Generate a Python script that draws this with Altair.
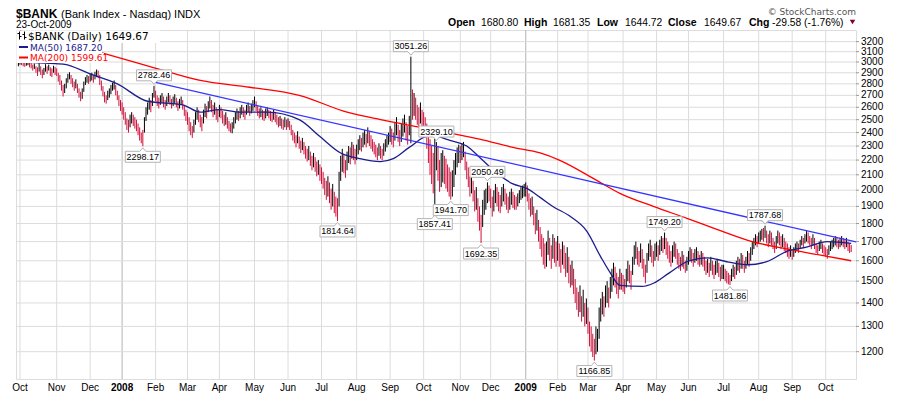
import altair as alt
import pandas as pd

# ---------------- axis data ----------------
# trading-day index of first session of each month (1-Oct-2007 = 0)
month_idx = [0, 23, 44, 64, 85, 105, 125, 147, 168, 189, 211, 232, 253,
             276, 295, 317, 337, 356, 378, 399, 419, 441, 463, 484, 505]
month_lbl = ["Oct", "Nov", "Dec", "2008", "Feb", "Mar", "Apr", "May", "Jun",
             "Jul", "Aug", "Sep", "Oct", "Nov", "Dec", "2009", "Feb", "Mar",
             "Apr", "May", "Jun", "Jul", "Aug", "Sep", "Oct"]
year_idx = [64, 317]
y_ticks = list(range(1200, 3300, 100))

# ---------------- daily bars (high, low), first bar = index -1 ----------------
b2007_10 = [(3000, 2960), (3020, 2975), (3010, 2970), (3005, 2960), (3000, 2955), (3015, 2965),
            (3010, 2970), (2995, 2950), (2990, 2940), (2975, 2920), (2985, 2935), (2960, 2900),
            (2950, 2870), (2990, 2910), (2960, 2880), (2930, 2850), (2945, 2880), (2980, 2910),
            (2960, 2890), (2975, 2920), (2950, 2870), (2940, 2860), (2965, 2900), (2955, 2880)]
b2007_11 = [(2940, 2870), (2900, 2820), (2880, 2790), (2830, 2740), (2790, 2690), (2800, 2720),
            (2850, 2760), (2890, 2810), (2905, 2840), (2880, 2800), (2850, 2770), (2820, 2740),
            (2840, 2760), (2800, 2720), (2760, 2680), (2730, 2650), (2760, 2670), (2820, 2730),
            (2860, 2790), (2880, 2810), (2870, 2800)]
b2007_12 = [(2890, 2820), (2900, 2830), (2880, 2810), (2910, 2840), (2930, 2860), (2920, 2850),
            (2880, 2790), (2830, 2740), (2780, 2690), (2730, 2640), (2700, 2630), (2740, 2660),
            (2760, 2680), (2790, 2710), (2810, 2740), (2830, 2750), (2790, 2700), (2740, 2660),
            (2700, 2610), (2660, 2570)]
b2008_01 = [(2640, 2540), (2600, 2500), (2560, 2460), (2510, 2420), (2500, 2400), (2540, 2440),
            (2560, 2470), (2540, 2450), (2520, 2430), (2500, 2410), (2470, 2380), (2440, 2340),
            (2400, 2320), (2420, 2298.17), (2520, 2400), (2600, 2490), (2640, 2540), (2680, 2580),
            (2660, 2560), (2720, 2610), (2782.46, 2680)]
b2008_02 = [(2740, 2650), (2700, 2610), (2680, 2590), (2700, 2620), (2720, 2640), (2690, 2600),
            (2660, 2580), (2690, 2610), (2720, 2640), (2700, 2620), (2670, 2590), (2690, 2610),
            (2710, 2630), (2680, 2600), (2650, 2570), (2670, 2590), (2690, 2620), (2660, 2580),
            (2620, 2530), (2580, 2490)]
b2008_03 = [(2560, 2460), (2520, 2410), (2480, 2380), (2450, 2360), (2500, 2400), (2560, 2460),
            (2600, 2500), (2580, 2480), (2540, 2440), (2520, 2410), (2580, 2470), (2630, 2520),
            (2610, 2510), (2650, 2560), (2690, 2590), (2660, 2560), (2620, 2520), (2640, 2540),
            (2600, 2500), (2580, 2480)]
b2008_04 = [(2620, 2520), (2600, 2510), (2570, 2470), (2540, 2450), (2560, 2460), (2520, 2430),
            (2490, 2410), (2470, 2400), (2480, 2395), (2520, 2430), (2560, 2470), (2590, 2500),
            (2570, 2490), (2600, 2510), (2620, 2540), (2600, 2520), (2580, 2500), (2620, 2540),
            (2640, 2560), (2610, 2530), (2630, 2550), (2660, 2570)]
b2008_05 = [(2690, 2600), (2650, 2570), (2610, 2530), (2590, 2510), (2600, 2520), (2580, 2500),
            (2570, 2490), (2590, 2510), (2600, 2530), (2580, 2510), (2570, 2490), (2560, 2480),
            (2580, 2500), (2560, 2480), (2540, 2460), (2520, 2440), (2530, 2450), (2510, 2430),
            (2500, 2420), (2520, 2440), (2500, 2420)]
b2008_06 = [(2510, 2440), (2490, 2420), (2460, 2380), (2420, 2340), (2400, 2320), (2380, 2290),
            (2410, 2320), (2370, 2280), (2340, 2250), (2360, 2270), (2330, 2240), (2300, 2210),
            (2280, 2190), (2300, 2200), (2260, 2160), (2230, 2130), (2250, 2150), (2220, 2120),
            (2190, 2090), (2200, 2100), (2170, 2060)]
b2008_07 = [(2150, 2040), (2120, 2010), (2080, 1970), (2060, 1940), (2090, 1960), (2050, 1920),
            (2010, 1880), (2040, 1900), (1990, 1860), (1960, 1840), (1950, 1814.64), (2120, 1900),
            (2230, 2060), (2280, 2120), (2240, 2110), (2200, 2080), (2260, 2130), (2300, 2180),
            (2290, 2170), (2330, 2210), (2310, 2200), (2280, 2170)]
b2008_08 = [(2310, 2200), (2350, 2240), (2380, 2270), (2360, 2260), (2400, 2290), (2420, 2310),
            (2390, 2290), (2440, 2320), (2410, 2300), (2380, 2280), (2350, 2260), (2330, 2240),
            (2310, 2220), (2290, 2200), (2320, 2230), (2300, 2210), (2280, 2200), (2320, 2230),
            (2350, 2260), (2380, 2290), (2400, 2310)]
b2008_09 = [(2450, 2330), (2430, 2310), (2400, 2290), (2480, 2340), (2520, 2380), (2460, 2330),
            (2420, 2300), (2470, 2330), (2510, 2370), (2540, 2400), (2480, 2340), (2450, 2310),
            (2530, 2380), (3051.26, 2320), (2750, 2500), (2720, 2530), (2680, 2500), (2620, 2460),
            (2600, 2440), (2640, 2470), (2580, 2420)]
b2008_10 = [(2560, 2400), (2520, 2360), (2470, 2280), (2400, 2180), (2350, 2100), (2300, 2040),
            (2250, 1980), (2390, 1857.41), (2329.10, 2130), (2300, 2060), (2200, 1990), (2250, 2020),
            (2270, 2050), (2230, 2040), (2210, 2010), (2170, 1990), (2150, 1960), (2120, 1941.70),
            (2130, 1960), (2200, 2020), (2250, 2100), (2290, 2150), (2310, 2180)]
b2008_11 = [(2300, 2180), (2320, 2200), (2330, 2220), (2260, 2130), (2190, 2070), (2150, 2020),
            (2090, 1960), (2120, 1980), (2060, 1930), (2000, 1870), (2020, 1880), (1950, 1810),
            (1900, 1760), (1850, 1692.35), (1940, 1780), (2000, 1850), (2010, 1880), (2050.49, 1920),
            (2030, 1930)]
b2008_12 = [(2010, 1890), (1960, 1840), (2000, 1870), (2040, 1920), (2020, 1900), (1990, 1870),
            (1970, 1860), (2020, 1900), (2040, 1930), (2010, 1910), (1980, 1880), (1960, 1860),
            (1990, 1880), (2010, 1910), (1990, 1890), (1970, 1880), (1960, 1880), (1980, 1900),
            (2000, 1920), (2020, 1940), (2030, 1950), (2040, 1960)]
b2009_01 = [(2050, 1960), (2030, 1930), (1980, 1880), (1950, 1840), (1960, 1850), (1900, 1790),
            (1860, 1740), (1880, 1760), (1820, 1700), (1780, 1660), (1740, 1620), (1720, 1580),
            (1690, 1560), (1700, 1570), (1760, 1630), (1720, 1600), (1680, 1560), (1740, 1610),
            (1720, 1590), (1700, 1570)]
b2009_02 = [(1730, 1600), (1690, 1570), (1660, 1540), (1700, 1580), (1680, 1560), (1640, 1520),
            (1670, 1540), (1620, 1490), (1580, 1470), (1600, 1480), (1560, 1440), (1510, 1400),
            (1470, 1370), (1450, 1340), (1480, 1360), (1430, 1320), (1460, 1340), (1400, 1300),
            (1420, 1310)]
b2009_03 = [(1380, 1270), (1320, 1220), (1300, 1200), (1270, 1180), (1250, 1166.85), (1300, 1190),
            (1290, 1200), (1380, 1250), (1420, 1320), (1450, 1350), (1430, 1340), (1480, 1380),
            (1500, 1400), (1470, 1380), (1520, 1420), (1560, 1450), (1590, 1480), (1570, 1470),
            (1540, 1440), (1520, 1420), (1560, 1460), (1540, 1460)]
b2009_04 = [(1530, 1450), (1510, 1440), (1560, 1470), (1600, 1500), (1580, 1490), (1550, 1460),
            (1620, 1530), (1680, 1580), (1700, 1610), (1670, 1580), (1650, 1570), (1690, 1590),
            (1660, 1560), (1610, 1520), (1580, 1490), (1640, 1540), (1690, 1600), (1710, 1620),
            (1680, 1590), (1650, 1570), (1690, 1600)]
b2009_05 = [(1700, 1620), (1680, 1600), (1710, 1630), (1730, 1650), (1720, 1640), (1749.20, 1660),
            (1720, 1630), (1700, 1610), (1680, 1590), (1650, 1570), (1680, 1590), (1700, 1620),
            (1690, 1610), (1660, 1580), (1640, 1560), (1620, 1550), (1650, 1570), (1630, 1560),
            (1600, 1540), (1620, 1550)]
b2009_06 = [(1650, 1580), (1670, 1600), (1660, 1590), (1640, 1570), (1660, 1590), (1670, 1600),
            (1650, 1580), (1630, 1570), (1650, 1580), (1640, 1570), (1620, 1550), (1600, 1530),
            (1610, 1540), (1590, 1520), (1620, 1550), (1600, 1530), (1580, 1510), (1600, 1530),
            (1610, 1540), (1590, 1520), (1570, 1500), (1580, 1510)]
b2009_07 = [(1580, 1510), (1560, 1500), (1550, 1490), (1540, 1485), (1530, 1481.86), (1560, 1500),
            (1580, 1520), (1570, 1510), (1600, 1530), (1620, 1550), (1610, 1540), (1640, 1560),
            (1630, 1560), (1600, 1540), (1620, 1560), (1650, 1580), (1640, 1570), (1670, 1600),
            (1700, 1630), (1720, 1660), (1740, 1680), (1730, 1670)]
b2009_08 = [(1750, 1690), (1760, 1700), (1770, 1710), (1775, 1700), (1787.68, 1720), (1760, 1690),
            (1740, 1670), (1760, 1690), (1750, 1680), (1720, 1660), (1700, 1640), (1730, 1660),
            (1760, 1690), (1750, 1680), (1730, 1660), (1740, 1670), (1720, 1650), (1700, 1640),
            (1690, 1620), (1670, 1610), (1680, 1620)]
b2009_09 = [(1650, 1605), (1670, 1620), (1690, 1640), (1700, 1650), (1690, 1640), (1710, 1660),
            (1730, 1680), (1720, 1670), (1740, 1690), (1760, 1700), (1750, 1690), (1730, 1680),
            (1720, 1660), (1740, 1680), (1720, 1660), (1690, 1640), (1680, 1630), (1700, 1650),
            (1710, 1660), (1690, 1640), (1680, 1630)]
b2009_10 = [(1670, 1620), (1660, 1610), (1680, 1630), (1700, 1650), (1710, 1660), (1720, 1670),
            (1730, 1680), (1720, 1670), (1710, 1660), (1720, 1670), (1730, 1680), (1720, 1670),
            (1710, 1660), (1720, 1670), (1700, 1650), (1690, 1640), (1681.35, 1644.72)]

months = [b2007_10, b2007_11, b2007_12, b2008_01, b2008_02, b2008_03, b2008_04, b2008_05,
          b2008_06, b2008_07, b2008_08, b2008_09, b2008_10, b2008_11, b2008_12, b2009_01,
          b2009_02, b2009_03, b2009_04, b2009_05, b2009_06, b2009_07, b2009_08, b2009_09, b2009_10]

# moving averages read at sample sessions
ma50_i = [0, 27, 44, 61, 80, 102, 113, 125, 138, 155, 175, 188, 201, 213, 226, 234, 244, 257,
          270, 280, 288, 299, 309, 318, 326, 334, 345, 355, 364, 370, 376, 390, 397, 407, 418,
          431, 443, 456, 468, 481, 493, 506, 521]
ma50_v = [3000, 2980, 2890, 2800, 2650, 2620, 2560, 2580, 2560, 2560, 2500, 2370, 2250, 2210,
          2190, 2210, 2290, 2380, 2340, 2300, 2220, 2110, 2040, 2010, 1955, 1900, 1840, 1760,
          1620, 1540, 1480, 1475, 1490, 1540, 1595, 1615, 1595, 1580, 1595, 1650, 1670, 1700, 1690]
ma200_i = [0, 53, 81, 113, 144, 175, 205, 226, 251, 268, 288, 309, 326, 338, 362, 376, 397,
           418, 439, 459, 481, 501, 521]
ma200_v = [3310, 3080, 2960, 2830, 2770, 2700, 2560, 2500, 2440, 2400, 2350, 2290, 2250, 2200,
           2060, 1980, 1900, 1830, 1760, 1700, 1660, 1630, 1600]

trend_i = [83, 524]
trend_v = [2819, 1698]

ann_above_i = [84, 245, 261, 293, 404, 467]
ann_above_v = [2782.46, 3051.26, 2329.10, 2050.49, 1749.20, 1787.68]
ann_below_i = [77, 199, 260, 270, 289, 360, 445]
ann_below_v = [2298.17, 1814.64, 1857.41, 1941.70, 1692.35, 1166.85, 1481.86]

# ---------------- build tables ----------------
rows = []
idx = -1
prev_mid = None
for m in months:
    for h, l in m:
        mid = (h + l) / 2
        col = "#d0103a" if (prev_mid is not None and mid < prev_mid) else "#000000"
        rows.append({"i": idx, "high": h, "low": l, "col": col})
        prev_mid = mid
        idx += 1
bars = pd.DataFrame(rows)

W, H = 840, 349
xs = alt.Scale(domain=[-2.5, 524], nice=False, zero=False)
ys = alt.Scale(type="log", domain=[1100.7, 3320], nice=False)
X = lambda f: alt.X(f, scale=xs, axis=None)
Y = lambda f: alt.Y(f, scale=ys, axis=None)

layers = []

# grid
vg = pd.DataFrame({"i": month_idx,
                   "c": ["#b4b4b4" if v in year_idx else "#dcdcdc" for v in month_idx]})
layers.append(alt.Chart(vg).mark_rule(strokeWidth=1).encode(
    x=X("i:Q"), y=alt.value(0), y2=alt.value(H), color=alt.Color("c:N", scale=None)))
hg = pd.DataFrame({"v": y_ticks})
layers.append(alt.Chart(hg).mark_rule(strokeWidth=1, color="#dcdcdc").encode(
    y=Y("v:Q"), x=alt.value(0), x2=alt.value(W)))
# y ticks + labels (right side)
layers.append(alt.Chart(hg).mark_rule(strokeWidth=1, color="#999999").encode(
    y=Y("v:Q"), x=alt.value(W), x2=alt.value(W + 3)))
layers.append(alt.Chart(hg).mark_text(align="left", baseline="middle", font="Liberation Sans",
                                      fontSize=10, color="#000").encode(
    y=Y("v:Q"), x=alt.value(W + 5), text=alt.Text("v:Q", format="d")))
# x labels
xl = pd.DataFrame({"i": month_idx, "t": month_lbl,
                   "b": [v in year_idx for v in month_idx]})
for bold in (False, True):
    layers.append(alt.Chart(xl).transform_filter(
        "datum.b" if bold else "!datum.b").mark_text(
        align="center", baseline="middle", font="Liberation Sans", fontSize=10,
        fontWeight="bold" if bold else "normal", color="#000").encode(
        x=X("i:Q"), y=alt.value(H + 8.5), text="t:N"))

# price bars
layers.append(alt.Chart(bars).mark_rule(strokeWidth=1).encode(
    x=X("i:Q"), y=Y("low:Q"), y2="high:Q", color=alt.Color("col:N", scale=None)))

ma200 = pd.DataFrame({"i": ma200_i, "v": ma200_v})
ma50 = pd.DataFrame({"i": ma50_i, "v": ma50_v})
trend = pd.DataFrame({"i": trend_i, "v": trend_v})
for df, c, w in [(ma200, "#ff0000", 1.3), (ma50, "#1c1c8c", 1.3)]:
    layers.append(alt.Chart(df).mark_line(color=c, strokeWidth=w, interpolate="monotone").encode(
        x=X("i:Q"), y=Y("v:Q")))
layers.append(alt.Chart(trend).mark_line(color="#3535ff", strokeWidth=1.3).encode(
    x=X("i:Q"), y=Y("v:Q")))

# value call-outs
above_path = "M-17.5,-16 L17.5,-16 L17.5,-5 L3,-5 L0,-1.5 L-3,-5 L-17.5,-5 Z"
below_path = "M-17.5,16 L17.5,16 L17.5,5 L3,5 L0,1.5 L-3,5 L-17.5,5 Z"
for ii, vv, path, dy in [(ann_above_i, ann_above_v, above_path, -10.5),
                         (ann_below_i, ann_below_v, below_path, 10.5)]:
    df = pd.DataFrame({"i": ii, "v": vv})
    base = alt.Chart(df).encode(x=X("i:Q"), y=Y("v:Q"))
    layers.append(base.mark_point(shape=path, size=4, filled=True, fill="#ffffff", stroke="#b4b4b4",
                                  strokeWidth=1, opacity=1))
    layers.append(base.mark_text(dy=dy, baseline="middle", align="center", font="Liberation Sans",
                                 fontSize=9, color="#000").encode(text=alt.Text("v:Q", format=".2f")))


def txt(s, x, y, size, weight="normal", color="#000", font="Liberation Sans", align="left"):
    return alt.Chart(pd.DataFrame({"t": [s]})).mark_text(
        align=align, baseline="alphabetic", fontSize=size, fontWeight=weight, color=color, font=font
    ).encode(x=alt.value(x), y=alt.value(y), text="t:N")


def box(x1, x2, y1, y2):
    return alt.Chart(pd.DataFrame({"a": [0]})).mark_rect(color="#ffffff", opacity=1).encode(
        x=alt.value(x1), x2=alt.value(x2), y=alt.value(y1), y2=alt.value(y2))


def hline(x1, x2, y, c):
    return alt.Chart(pd.DataFrame({"a": [0]})).mark_rule(color=c, strokeWidth=2).encode(
        x=alt.value(x1), x2=alt.value(x2), y=alt.value(y))


# legend inside plot
layers += [box(0.5, 144, 0.5, 13), box(0.5, 86, 13, 23), box(0.5, 88, 23, 33)]
icon = "M-3,-4 L-3,4 M-5,-2 L-3,-2 M-3,1 L-1,1 M2,-4 L2,4 M0,-1 L2,-1 M2,2 L4,2"
layers.append(alt.Chart(pd.DataFrame({"a": [0]})).mark_point(
    shape=icon, size=4, color="#000", strokeWidth=1, opacity=1).encode(x=alt.value(6.5), y=alt.value(5.5)))
layers.append(txt("$BANK (Daily) 1649.67", 12, 9.5, 10.5, font="DejaVu Sans"))
layers.append(hline(3, 12, 17, "#1c1c8c"))
layers.append(txt("MA(50) 1687.20", 14, 20.5, 9, color="#1c1c8c", font="DejaVu Sans"))
layers.append(hline(3, 12, 27.5, "#ff0000"))
layers.append(txt("MA(200) 1599.61", 14, 31, 9, color="#ff0000", font="DejaVu Sans"))

# header above plot
layers.append(txt("$BANK", 0, -12.5, 12, weight="bold"))
layers.append(txt("(Bank Index - Nasdaq) INDX", 45, -12.5, 11))
layers.append(txt("23-Oct-2009", 0, -2, 10))
layers.append(txt("\u00a9 StockCharts.com", 840, -15, 9, color="#555555", font="DejaVu Sans", align="right"))
hdr = [("Open", 432, True), ("1680.80", 465, False), ("High", 508, True), ("1681.35", 537, False),
       ("Low", 581, True), ("1644.72", 609, False), ("Close", 652, True), ("1649.67", 688, False),
       ("Chg", 733, True), ("-29.58 (-1.76%)", 756, False)]
for s, x, b in hdr:
    layers.append(txt(s, x, -4, 10.5 if b else 10.3, weight="bold" if b else "normal"))
layers.append(alt.Chart(pd.DataFrame({"a": [0]})).mark_point(
    shape="triangle-down", size=30, filled=True, color="#800020", opacity=1).encode(
    x=alt.value(836.5), y=alt.value(-8)))

chart = alt.layer(*layers).properties(
    width=W, height=H, autosize="none",
    padding={"left": 8, "top": 22, "right": 36, "bottom": 17}
).configure_view(stroke="#a8a8a8", strokeWidth=1).configure(background="#ffffff")

chart.save("out.html", embed_options={"renderer": "svg", "actions": False})
